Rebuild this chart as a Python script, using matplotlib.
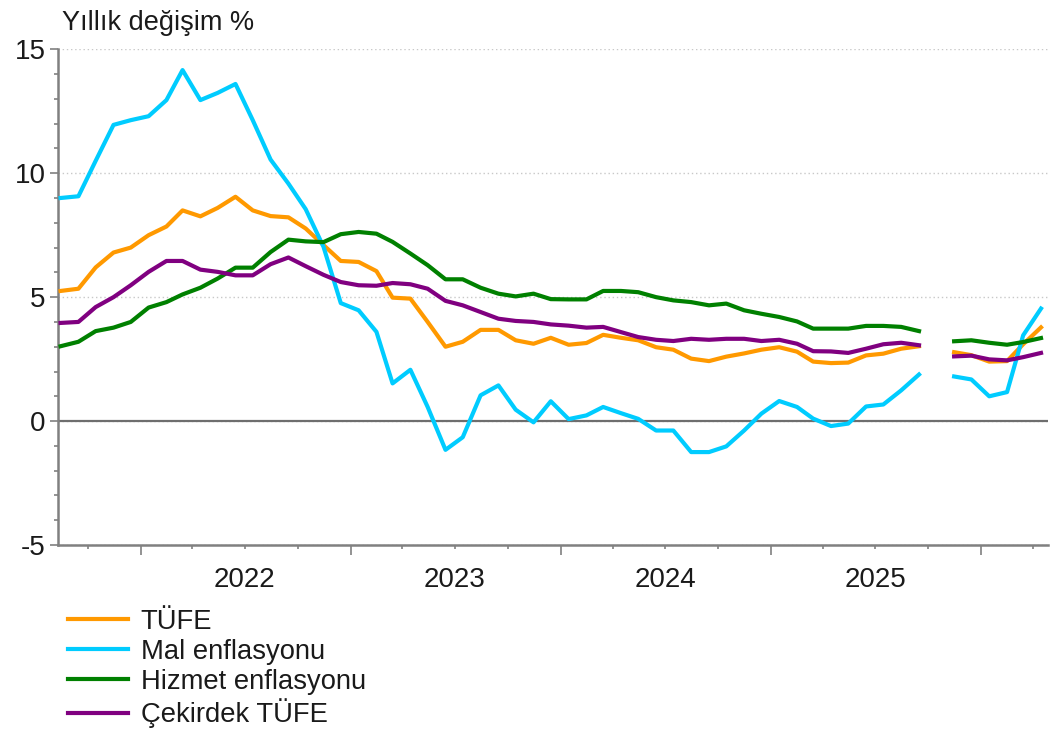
import numpy as np
import pandas as pd
import matplotlib
matplotlib.use("Agg")
import matplotlib.pyplot as plt
import matplotlib.dates as mdates
from matplotlib.ticker import MultipleLocator

# Aylık veriler: Ağustos 2021 - Nisan 2026 (Ekim 2025 eksik)
months = pd.date_range("2021-08-01", "2026-04-01", freq="MS") + pd.Timedelta(days=14)

tufe = [5.25, 5.34, 6.2, 6.8, 7.0, 7.5, 7.85, 8.5, 8.26, 8.6, 9.05,
        8.5, 8.27, 8.22, 7.77, 7.1, 6.46, 6.42, 6.05, 4.98, 4.94,
        4.0, 3.0, 3.2, 3.68, 3.68, 3.26, 3.12, 3.36, 3.08,
        3.15, 3.48, 3.36, 3.26, 2.98, 2.88, 2.52, 2.42, 2.6, 2.73,
        2.88, 2.98, 2.8, 2.4, 2.34, 2.36, 2.65, 2.72, 2.92, 3.02,
        np.nan, 2.78, 2.66, 2.4, 2.42, 3.1, 3.78]
mal = [9.0, 9.07, 10.5, 11.95, 12.14, 12.3, 12.95, 14.16, 12.95, 13.24, 13.6,
       12.14, 10.55, 9.58, 8.55, 7.03, 4.76, 4.47, 3.6, 1.52, 2.07,
       0.57, -1.16, -0.65, 1.04, 1.44, 0.46, -0.05, 0.8, 0.08,
       0.23, 0.57, 0.32, 0.09, -0.38, -0.38, -1.25, -1.25, -1.02, -0.38,
       0.3, 0.81, 0.57, 0.1, -0.2, -0.1, 0.59, 0.67, 1.24, 1.88,
       np.nan, 1.8, 1.68, 1.0, 1.17, 3.46, 4.54]
hizmet = [3.02, 3.2, 3.63, 3.77, 4.0, 4.58, 4.8, 5.11, 5.38, 5.75, 6.19,
          6.19, 6.82, 7.32, 7.25, 7.22, 7.54, 7.63, 7.56, 7.23, 6.76,
          6.29, 5.72, 5.72, 5.38, 5.14, 5.03, 5.14, 4.92, 4.91,
          4.91, 5.25, 5.25, 5.2, 5.0, 4.87, 4.8, 4.67, 4.74, 4.47,
          4.33, 4.2, 4.02, 3.73, 3.73, 3.73, 3.84, 3.84, 3.8, 3.63,
          np.nan, 3.22, 3.26, 3.16, 3.08, 3.19, 3.35]
cekirdek = [3.96, 4.0, 4.6, 5.0, 5.48, 6.02, 6.46, 6.46, 6.11, 6.02, 5.88,
            5.88, 6.33, 6.6, 6.25, 5.9, 5.61, 5.48, 5.46, 5.57, 5.52,
            5.34, 4.85, 4.67, 4.4, 4.13, 4.04, 4.0, 3.9, 3.85,
            3.77, 3.8, 3.59, 3.39, 3.28, 3.23, 3.32, 3.28, 3.32, 3.32,
            3.23, 3.28, 3.12, 2.82, 2.81, 2.75, 2.92, 3.1, 3.16, 3.06,
            np.nan, 2.61, 2.64, 2.49, 2.45, 2.58, 2.75]

labels = ["TÜFE", "Mal enflasyonu", "Hizmet enflasyonu", "Çekirdek TÜFE"]
colors = ["#FF9900", "#00CCFF", "#008000", "#800080"]
year_labels = ["2022", "2023", "2024", "2025"]

plt.rcParams["font.family"] = ["Liberation Sans", "DejaVu Sans"]
plt.rcParams["axes.unicode_minus"] = False
text_color = "#1a1a1a"
axis_color = "#808080"

fig = plt.figure(figsize=(10.5, 7.31), dpi=100)
ax = fig.add_axes([0.0555, 0.2544, 0.9425, 0.6782])

for series, lab, col in zip([tufe, mal, hizmet, cekirdek], labels, colors):
    ax.plot(months, series, color=col, lw=3.0, label=lab, zorder=3)

ax.set_ylim(-5, 15)
ax.set_xlim(pd.Timestamp("2021-08-11"), pd.Timestamp("2026-04-27"))

ax.yaxis.set_major_locator(MultipleLocator(5))
ax.yaxis.set_minor_locator(MultipleLocator(1))
ax.grid(axis="y", which="major", color="#c8c8c8", ls=(0, (1, 2)), lw=1)
# sıfır çizgisi
ax.axhline(0, color="#6e6e6e", lw=1.6, zorder=2)

ax.xaxis.set_major_locator(mdates.YearLocator())
ax.xaxis.set_minor_locator(mdates.MonthLocator(bymonth=[4, 7, 10]))
ax.xaxis.set_major_formatter(plt.NullFormatter())

ax.tick_params(axis="y", which="major", length=6, width=1.2, color=axis_color,
               labelsize=20, labelcolor=text_color, pad=3)
ax.tick_params(axis="y", which="minor", length=3, width=1.2, color=axis_color)
ax.tick_params(axis="x", which="major", length=7, width=1.2, color=axis_color)
ax.tick_params(axis="x", which="minor", length=3, width=1.2, color=axis_color)

for s in ["top", "right"]:
    ax.spines[s].set_visible(False)
for s in ["left", "bottom"]:
    ax.spines[s].set_color(axis_color)
    ax.spines[s].set_linewidth(1.8)
    ax.spines[s].set_zorder(2.6)

# Yıl etiketleri yıl ortasında
sec = ax.secondary_xaxis("bottom")
sec.set_xticks([pd.Timestamp(f"{y}-07-01") for y in year_labels], labels=year_labels)
sec.tick_params(length=0, pad=16, labelsize=20, labelcolor=text_color)
sec.spines["bottom"].set_visible(False)

fig.text(62 / 1050, 1 - 30 / 731, "Yıllık değişim %", fontsize=19.5,
         color=text_color, va="baseline", ha="left")

fig.legend(loc="upper left", bbox_to_anchor=(68 / 1050, 1 - 609 / 731),
           frameon=False, fontsize=19.7, handlelength=2.2, handletextpad=0.45,
           labelspacing=0.14, borderpad=0, borderaxespad=0, labelcolor=text_color)

fig.savefig("out.png", dpi=100)
